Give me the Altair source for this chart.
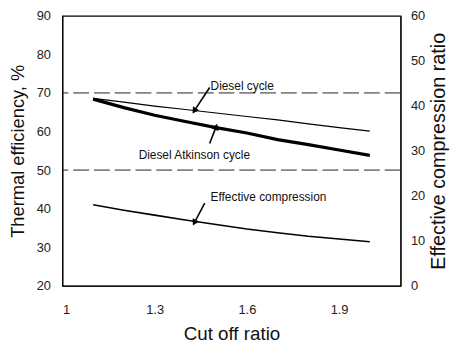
import altair as alt
import pandas as pd

cutoff = [1.1, 1.2, 1.3, 1.4, 1.5, 1.6, 1.7, 1.8, 1.9, 2.0]
diesel = [68.6, 67.6, 66.6, 65.7, 64.8, 63.9, 63.0, 62.0, 61.0, 60.1]
atkinson = [68.4, 66.2, 64.2, 62.6, 61.0, 59.6, 57.9, 56.6, 55.2, 53.8]
eff_comp = [18.0, 16.8, 15.7, 14.6, 13.6, 12.6, 11.8, 11.0, 10.4, 9.8]

grid_levels = [70, 50]

label_text = ["Diesel cycle", "Diesel Atkinson cycle", "Effective compression"]
label_x = [1.482, 1.248, 1.482]
label_y = [71.9, 53.9, 42.9]

arrow_x1 = [1.479, 1.479, 1.463]
arrow_y1 = [71.4, 56.9, 41.4]
arrow_x2 = [1.431, 1.499, 1.431]
arrow_y2 = [65.6, 61.0, 36.6]
arrow_angle = [213, 20, 208]

FONT = "Liberation Sans"

df = pd.DataFrame({"x": cutoff, "diesel": diesel, "atk": atkinson, "eff": eff_comp})
grid_df = pd.DataFrame({"y": grid_levels})
lab_df = pd.DataFrame({"t": label_text, "x": label_x, "y": label_y})
arr_df = pd.DataFrame({"x": arrow_x1, "y": arrow_y1, "x2": arrow_x2, "y2": arrow_y2, "a": arrow_angle})

xs = alt.Scale(domain=[1, 2.1], nice=False, zero=False)
ys = alt.Scale(domain=[20, 90], nice=False, zero=False)

xaxis = alt.Axis(values=[1, 1.3, 1.6, 1.9], format="~g", title="Cut off ratio", grid=False,
                 ticks=False, labelPadding=18, titlePadding=8, labelFontSize=13,
                 titleFontSize=19, titleFontWeight="normal", labelColor="#222", titleColor="#111",
                 domainColor="black")
yaxis = alt.Axis(values=list(range(20, 91, 10)), title="Thermal efficiency, %", grid=False,
                 ticks=False, labelPadding=12, titlePadding=9, labelFontSize=13,
                 titleFontSize=18.5, titleFontWeight="normal", labelColor="#222", titleColor="#111",
                 domainColor="black")

X = alt.X("x:Q", scale=xs, axis=xaxis)

grid = alt.Chart(grid_df).mark_rule(color="#222", strokeDash=[16, 5], strokeWidth=1).encode(
    y=alt.Y("y:Q", scale=ys, axis=yaxis)
)
l1 = alt.Chart(df).mark_line(color="black", strokeWidth=1.2).encode(
    x=X, y=alt.Y("diesel:Q", scale=ys, axis=yaxis))
l2 = alt.Chart(df).mark_line(color="black", strokeWidth=3.2).encode(
    x=X, y=alt.Y("atk:Q", scale=ys, axis=yaxis))
arrows = alt.Chart(arr_df).mark_rule(color="black", strokeWidth=1.6).encode(
    x=X, y=alt.Y("y:Q", scale=ys, axis=yaxis), x2="x2:Q", y2="y2:Q")
heads = alt.Chart(arr_df).mark_point(shape="triangle", filled=True, color="black", size=55, opacity=1).encode(
    x=alt.X("x2:Q", scale=xs, axis=xaxis), y=alt.Y("y2:Q", scale=ys, axis=yaxis),
    angle=alt.Angle("a:Q", scale=None))
labels = alt.Chart(lab_df).mark_text(align="left", baseline="middle", font=FONT, fontSize=12,
                                      color="#111").encode(
    x=X, y=alt.Y("y:Q", scale=ys, axis=yaxis), text="t:N")

left = alt.layer(grid, l1, l2, arrows, heads, labels)

raxis = alt.Axis(values=list(range(0, 61, 10)), title="Effective compression ratio", orient="right",
                 grid=False, ticks=False, labelPadding=10, titlePadding=4, labelFontSize=13,
                 titleFontSize=20, titleFontWeight="normal", titleAngle=270, titleBaseline="top",
                 labelColor="#222", titleColor="#111", domainColor="black")
right = alt.Chart(df).mark_line(color="black", strokeWidth=1.6).encode(
    x=X, y=alt.Y("eff:Q", scale=alt.Scale(domain=[0, 60], nice=False), axis=raxis))

chart = alt.layer(left, right).resolve_scale(y="independent").properties(
    width=342, height=273,
    autosize=alt.AutoSizeParams(type="none"),
    padding={"left": 55, "top": 6, "right": 50, "bottom": 58},
    background="white",
).configure_view(stroke="black", strokeWidth=1.2).configure_axis(
    labelFont=FONT, titleFont=FONT
)

chart.save("out.html", embed_options={"renderer": "svg", "actions": False})
